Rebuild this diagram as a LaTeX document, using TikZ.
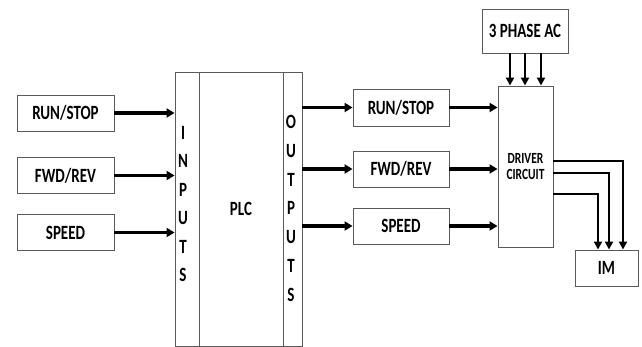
\documentclass[tikz,border=0pt]{standalone}
\usepackage{fontspec}
\setmainfont{Carlito}
\usepackage{graphicx}
\usetikzlibrary{arrows.meta,positioning,calc}
\definecolor{edge}{HTML}{5A5A5A}
\newcommand{\tallt}[1]{\scalebox{1}[1.35]{#1}}

\begin{document}
\begin{tikzpicture}[x=1pt,y=-1pt,
    blk/.style={draw=edge,line width=0.9pt,inner sep=0pt,font=\fontsize{15}{15}\selectfont\bfseries},
    sig/.style={line width=3.2pt,-{Triangle[length=8pt,width=9pt]}},
    pwr/.style={line width=2.8pt,-{Triangle[length=8pt,width=8pt]}}]
  \useasboundingbox (0,0) rectangle (642,347);
  % input switches
  \node[blk,minimum width=97pt,minimum height=36pt] (runin) at (65.5,113) {\tallt{RUN/STOP}};
  \node[blk,minimum width=97pt,minimum height=36pt] (fwdin) at (65.5,175.5) {\tallt{FWD/REV}};
  \node[blk,minimum width=97pt,minimum height=36pt] (spdin) at (65.5,232.5) {\tallt{SPEED}};
  % plc with its input and output columns
  \node[blk,minimum width=24pt,minimum height=274pt] (inp) at (187,209) {};
  \node[blk,minimum width=84pt,minimum height=274pt] (plc) at (241,209) {\tallt{PLC}};
  \node[blk,minimum width=19pt,minimum height=274pt] (outp) at (292.5,209) {};
  \foreach \l [count=\i from 0] in {I,N,P,U,T,S}
    \node[font=\fontsize{15}{15}\selectfont\bfseries,inner sep=0pt] (inl\i) at (183,{133+\i*28.4}) {\tallt{\l}};
  \foreach \l [count=\i from 0] in {O,U,T,P,U,T,S}
    \node[font=\fontsize{15}{15}\selectfont\bfseries,inner sep=0pt] (outl\i) at (291,{122+\i*28.8}) {\tallt{\l}};
  % output signals
  \node[blk,minimum width=96pt,minimum height=37pt] (runout) at (401,107.5) {\tallt{RUN/STOP}};
  \node[blk,minimum width=96pt,minimum height=36pt] (fwdout) at (401,169) {\tallt{FWD/REV}};
  \node[blk,minimum width=96pt,minimum height=36pt] (spdout) at (401,226) {\tallt{SPEED}};
  % driver, supply and motor
  \node[blk,minimum width=55pt,minimum height=161pt,align=center,
        font=\fontsize{11.5}{16}\selectfont\bfseries] (drv) at (525.5,166.5) {\tallt{DRIVER}\\\tallt{CIRCUIT}};
  \node[blk,minimum width=86pt,minimum height=44pt] (ac) at (525,31) {\tallt{3 PHASE AC}};
  \node[blk,minimum width=63pt,minimum height=36pt] (im) at (606.5,268) {\tallt{IM}};
  % connectors
  \foreach \src in {runin,fwdin,spdin}
    \draw[sig] (\src.east) -- (\src.east -| inp.west);
  \foreach \dst in {runout,fwdout,spdout} {
    \draw[sig] (outp.east |- \dst.west) -- (\dst.west);
    \draw[sig] (\dst.east) -- (\dst.east -| drv.west);
  }
  \foreach \dx in {-15,0,16}
    \draw[pwr] ([xshift=\dx pt]ac.south) -- ([xshift=\dx pt]ac.south |- drv.north);
  \foreach \dy/\dx in {5.5/16.5,-6.5/2.5,-27.5/-8.5}
    \draw[pwr] ([yshift=\dy pt]drv.east) -| ([xshift=\dx pt]im.north);
\end{tikzpicture}
\end{document}
